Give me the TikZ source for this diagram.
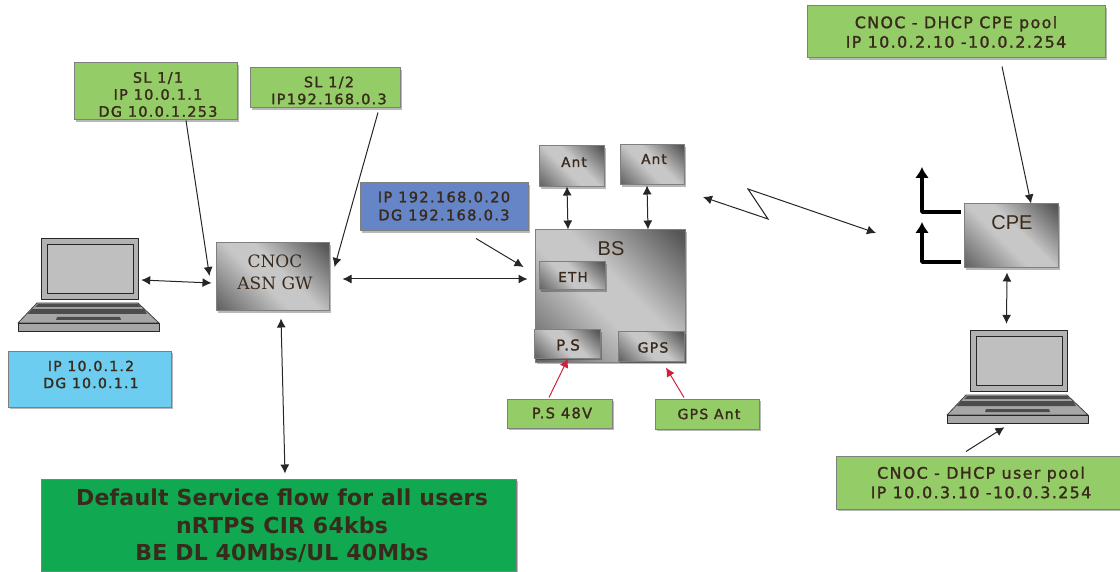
\documentclass[tikz,border=0pt]{standalone}
\usepackage{fontspec}
\setmainfont{DejaVu Sans}
\newfontfamily\lab{DejaVu Sans}[LetterSpace=9,FakeBold=1.6]
\newfontfamily\bigf{DejaVu Sans Bold}[LetterSpace=1]
\newfontfamily\sery{DejaVu Serif}
\newfontfamily\arl{Liberation Sans}
\usetikzlibrary{shadows,arrows.meta,calc}
\definecolor{txt}{HTML}{3A2A1C}
\definecolor{grn}{HTML}{94CC68}
\definecolor{blu}{HTML}{6585C6}
\definecolor{sky}{HTML}{6CCDF0}
\definecolor{dgrn}{HTML}{10A850}
\definecolor{edgec}{HTML}{7F7F7F}
\definecolor{rd}{HTML}{D0203C}
\pgfdeclareverticalshading{metalsh}{100bp}{%
  color(0bp)=(black!60); color(17bp)=(black!60); color(44bp)=(black!22);
  color(56bp)=(black!22); color(83bp)=(black!66); color(100bp)=(black!66)}
\tikzset{
  x=1pt,y=-1pt,
  box/.style={draw=edgec,line width=1pt,inner sep=0pt,
    drop shadow={shadow xshift=2pt,shadow yshift=-2pt,fill=black,opacity=.28}},
  flat/.style={box,fill=#1},
  metal/.style={box,shading=metalsh,shading angle=-45},
  tx/.style 2 args={text=txt,align=center,inner sep=0pt,font=\lab\fontsize{#1}{#2}\selectfont},
  ar/.style={-{Latex[length=9pt,width=9pt]},line width=1pt,draw=black!85},
  dbl/.style={{Latex[length=9pt,width=9pt]}-{Latex[length=9pt,width=9pt]},line width=1pt,draw=black!85},
  redar/.style={-{Latex[length=9pt,width=9pt]},line width=1pt,draw=rd},
  thick elbow/.style={-{Latex[length=11pt,width=14pt]},line width=3.6pt,black},
}
\newcommand{\bx}[6]{\node[#2,minimum width={(#5)-(#3)},minimum height={(#6)-(#4)}] (#1) at ({((#3)+(#5))/2},{((#4)+(#6))/2}) {};}
\newcommand{\laptop}[3]{%
  \begin{scope}[shift={(#2,#3)},line join=round]
    \path[fill=black!30,draw=black!85,line width=.9pt] (23,0) rectangle (120,61);
    \path[fill=black!25,draw=black!85,line width=.9pt] (29,6) rectangle (115,55);
    \path[fill=black!35,draw=black!75,line width=.8pt] (19,65) -- (120,65) -- (141,85) -- (0,85) -- cycle;
    \path[fill=black!35,draw=black!85,line width=.9pt] (0,85) rectangle (141,93);
    \path[fill=black!70] (20,66) -- (120,66) -- (123,69) -- (17,69) -- cycle;
    \path[fill=black!70] (14,71) -- (126,71) -- (129,76) -- (10,76) -- cycle;
    \path[fill=black!70] (39,79) -- (102,79) -- (103,82) -- (38,82) -- cycle;
    \node[inner sep=0pt,minimum width=141pt,minimum height=93pt] (#1) at (70.5,46.5) {};
  \end{scope}}
\begin{document}
\begin{tikzpicture}
\useasboundingbox (0,0) rectangle (1120,572);
% laptops
\laptop{lapa}{18}{238}
\laptop{lapb}{947}{330}
% green boxes
\bx{sla}{flat=grn}{74}{63}{237}{120}
\bx{slb}{flat=grn}{250}{68}{400}{108}
\bx{pool}{flat=grn}{807}{6}{1105}{58}
\bx{upool}{flat=grn}{836}{456}{1124}{509}
\bx{ps48}{flat=grn}{507}{399}{612}{428}
\bx{gant}{flat=grn}{655}{399}{759}{429}
\bx{bluebox}{flat=blu}{360}{183}{528}{231}
\bx{skybox}{flat=sky}{8}{351}{171}{407}
\bx{dflt}{flat=dgrn}{41}{479}{516}{571}
% metal boxes
\bx{cnoc}{metal}{216}{243}{329}{311}
\bx{bs}{metal}{535}{230}{685}{362}
\bx{anta}{metal}{539}{146}{604}{187}
\bx{antb}{metal}{620}{145}{684}{185}
\bx{eth}{metal}{539}{262}{605}{290}
\bx{ps}{metal}{534}{330}{600}{358}
\bx{gps}{metal}{618}{332}{684}{361}
\bx{cpe}{metal}{964}{204}{1058}{268}
% texts
\node[tx={14.4}{17}] (t1) at (158,94.5) {SL 1/1\\IP 10.0.1.1\\DG 10.0.1.253};
\node[tx={14.4}{17}] (t2) at (329,90.5) {SL 1/2\\IP192.168.0.3};
\node[tx={15.8}{19.5}] (t3) at (956,32) {CNOC - DHCP CPE pool\\IP 10.0.2.10 -10.0.2.254};
\node[tx={15.8}{19.5}] (t4) at (981,482.5) {CNOC - DHCP user pool\\IP 10.0.3.10 -10.0.3.254};
\node[tx={14.6}{18}] (t5) at (444,206) {IP 192.168.0.20\\DG 192.168.0.3};
\node[tx={14}{17}] (t6) at (91,374.5) {IP 10.0.1.2\\DG 10.0.1.1};
\node[tx={14.6}{17}] (t7) at (562,413) {P.S 48V};
\node[tx={14}{17}] (t8) at (709,414) {GPS Ant};
\node[tx={13.5}{17}] (t9) at (574,162) {Ant};
\node[tx={13.5}{17}] (t10) at (654,159) {Ant};
\node[tx={13.5}{17}] (t11) at (573,277) {ETH};
\node[tx={15}{17}] (t12) at (568,345) {P.S};
\node[tx={14}{17}] (t13) at (653,347.5) {GPS};
\node[text=txt,inner sep=0pt,align=center,font=\sery\fontsize{17}{22}\selectfont] (t14) at (275,272) {CNOC\\ASN GW};
\node[text=txt,inner sep=0pt,font=\arl\fontsize{20}{22}\selectfont] (t15) at (611,249) {BS};
\node[text=txt,inner sep=0pt,font=\arl\fontsize{20}{22}\selectfont] (t16) at (1012,223) {CPE};
\node[text=txt,inner sep=0pt,align=center,font=\bigf\fontsize{22}{27.5}\selectfont] (t17) at (282,526) {Default Service flow for all users\\nRTPS CIR 64kbs\\BE DL 40Mbs/UL 40Mbs};
% connectors
\draw[dbl] ([shift={(-18,-4.5)}]lapa.east) -- ([shift={(-4,6)}]cnoc.west);
\draw[ar] ([shift={(30.5,0)}]sla.south) -- ([shift={(-6,-1)}]cnoc.west);
\draw[ar] ([shift={(53,4)}]slb.south) -- ([shift={(5,-10)}]cnoc.east);
\draw[dbl] ([shift={(13,2)}]cnoc.east) -- ([shift={(-7,-17)}]bs.west);
\draw[ar] ([shift={(32,7)}]bluebox.south) -- ([shift={(-11,-29)}]bs.west);
\draw[dbl] ([shift={(8.5,7)}]cnoc.south) -- ([shift={(6.5,-5)}]dflt.north);
\draw[dbl] ([shift={(-4.5,-1)}]anta.south) -- ([shift={(-42,0)}]bs.north);
\draw[dbl] ([shift={(-5,0)}]antb.south) -- ([shift={(38,0)}]bs.north);
\draw[redar] ([shift={(-10.5,-1)}]ps48.north) -- ([shift={(1,0)}]ps.south);
\draw[redar] ([shift={(-23,-1)}]gant.north) -- ([shift={(15,6)}]gps.south);
\draw[ar] ([shift={(46,8)}]pool.south) -- ([shift={(20,0)}]cpe.north);
\draw[dbl] ([shift={(-4,4)}]cpe.south) -- ([shift={(-11,-6)}]lapb.north);
\draw[ar] ([shift={(-14,-4)}]upool.north) -- ([shift={(-13,4)}]lapb.south);
\coordinate (zap1) at (768,219);
\coordinate (zap2) at (748,189);
\coordinate (linkl) at (703,197);
\coordinate (linkr) at (876,233);
\draw[dbl] (linkl) -- (zap1) -- (zap2) -- (linkr);
\coordinate (ela) at (922,212);
\coordinate (elb) at (922,262);
\coordinate (ta) at (922,167);
\coordinate (tb) at (922,222);
\draw[thick elbow,line join=round] ([shift={(-3,-24)}]cpe.west) -- (ela) -- (ta);
\draw[thick elbow,line join=round] ([shift={(-3,26)}]cpe.west) -- (elb) -- (tb);
\end{tikzpicture}
\end{document}
